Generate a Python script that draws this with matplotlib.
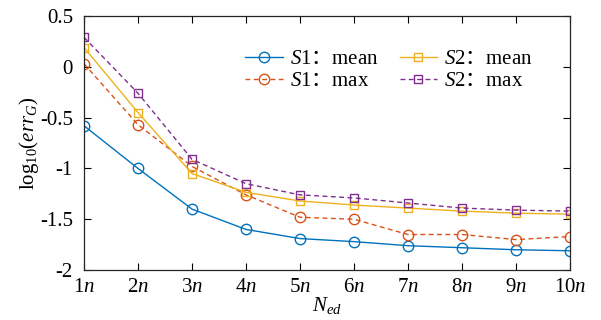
import numpy as np
import matplotlib
matplotlib.use('Agg')
import matplotlib.pyplot as plt

plt.rcParams['font.family'] = ['Liberation Serif', 'Noto Sans CJK SC']
plt.rcParams['mathtext.fontset'] = 'custom'
plt.rcParams['mathtext.rm'] = 'Liberation Serif'
plt.rcParams['mathtext.it'] = 'Liberation Serif:italic'
plt.rcParams['mathtext.sf'] = 'Noto Sans CJK SC'   # 用于全角冒号
plt.rcParams['axes.unicode_minus'] = False

# 数据
n_ed = np.arange(1, 11)
tick_labels = [r'$\mathrm{%d}n$' % k for k in n_ed]
s1_mean = [-0.58, -1.00, -1.40, -1.60, -1.69, -1.72, -1.76, -1.78, -1.80, -1.81]
s1_max = [0.03, -0.57, -0.98, -1.26, -1.48, -1.50, -1.65, -1.65, -1.70, -1.67]
s2_mean = [0.19, -0.45, -1.05, -1.235, -1.32, -1.36, -1.39, -1.42, -1.44, -1.45]
s2_max = [0.29, -0.26, -0.91, -1.15, -1.26, -1.29, -1.34, -1.39, -1.41, -1.42]
names = [r'$\mathit{S1}\mathsf{：}\mathrm{mean}$', r'$\mathit{S1}\mathsf{：}\mathrm{max}$',
         r'$\mathit{S2}\mathsf{：}\mathrm{mean}$', r'$\mathit{S2}\mathsf{：}\mathrm{max}$']

c1, c2, c3, c4 = '#0072BD', '#D95319', '#EDB120', '#7E2F8E'
dash = (0, (3.5, 2.5))

fig = plt.figure(figsize=(6.01, 3.2), dpi=100)
ax = fig.add_axes([0.1398, 0.156, 0.8085, 0.794])

ax.plot(n_ed, s1_mean, '-', color=c1, lw=1, marker='o', ms=7.5, mfc='none', mew=1, label=names[0])
ax.plot(n_ed, s1_max, linestyle=dash, color=c2, lw=1, marker='o', ms=7.5, mfc='none', mew=1, label=names[1])
ax.plot(n_ed, s2_mean, '-', color=c3, lw=1, marker='s', ms=6, mfc='none', mew=1, label=names[2])
ax.plot(n_ed, s2_max, linestyle=dash, color=c4, lw=1, marker='s', ms=6, mfc='none', mew=1, label=names[3])

ax.set_xlim(1, 10)
ax.set_ylim(-2, 0.5)
ax.set_xticks(n_ed)
ax.set_xticklabels(tick_labels)
ax.set_yticks([-2, -1.5, -1, -0.5, 0, 0.5])
ax.set_yticklabels(['-2', '-1.5', '-1', '-0.5', '0', '0.5'])
ax.tick_params(direction='in', top=True, right=True, labelsize=15, length=5, width=0.8)
ax.tick_params(axis='y', pad=8)
ax.tick_params(axis='x', pad=6)
for sp in ax.spines.values():
    sp.set_linewidth(0.9)
    sp.set_color('#262626')

ax.set_xlabel(r'$N_{ed}$', fontsize=15, labelpad=-2)
ax.set_ylabel(r'$\mathrm{log}_{10}(err_G)$', fontsize=15, labelpad=-1)

ax.legend(ncol=2, loc='upper left', bbox_to_anchor=(0.315, 0.9), frameon=False,
          fontsize=15, handlelength=1.8, columnspacing=1.0, handletextpad=0.35,
          labelspacing=0.1, borderaxespad=0)

fig.savefig('out.png', dpi=100)
